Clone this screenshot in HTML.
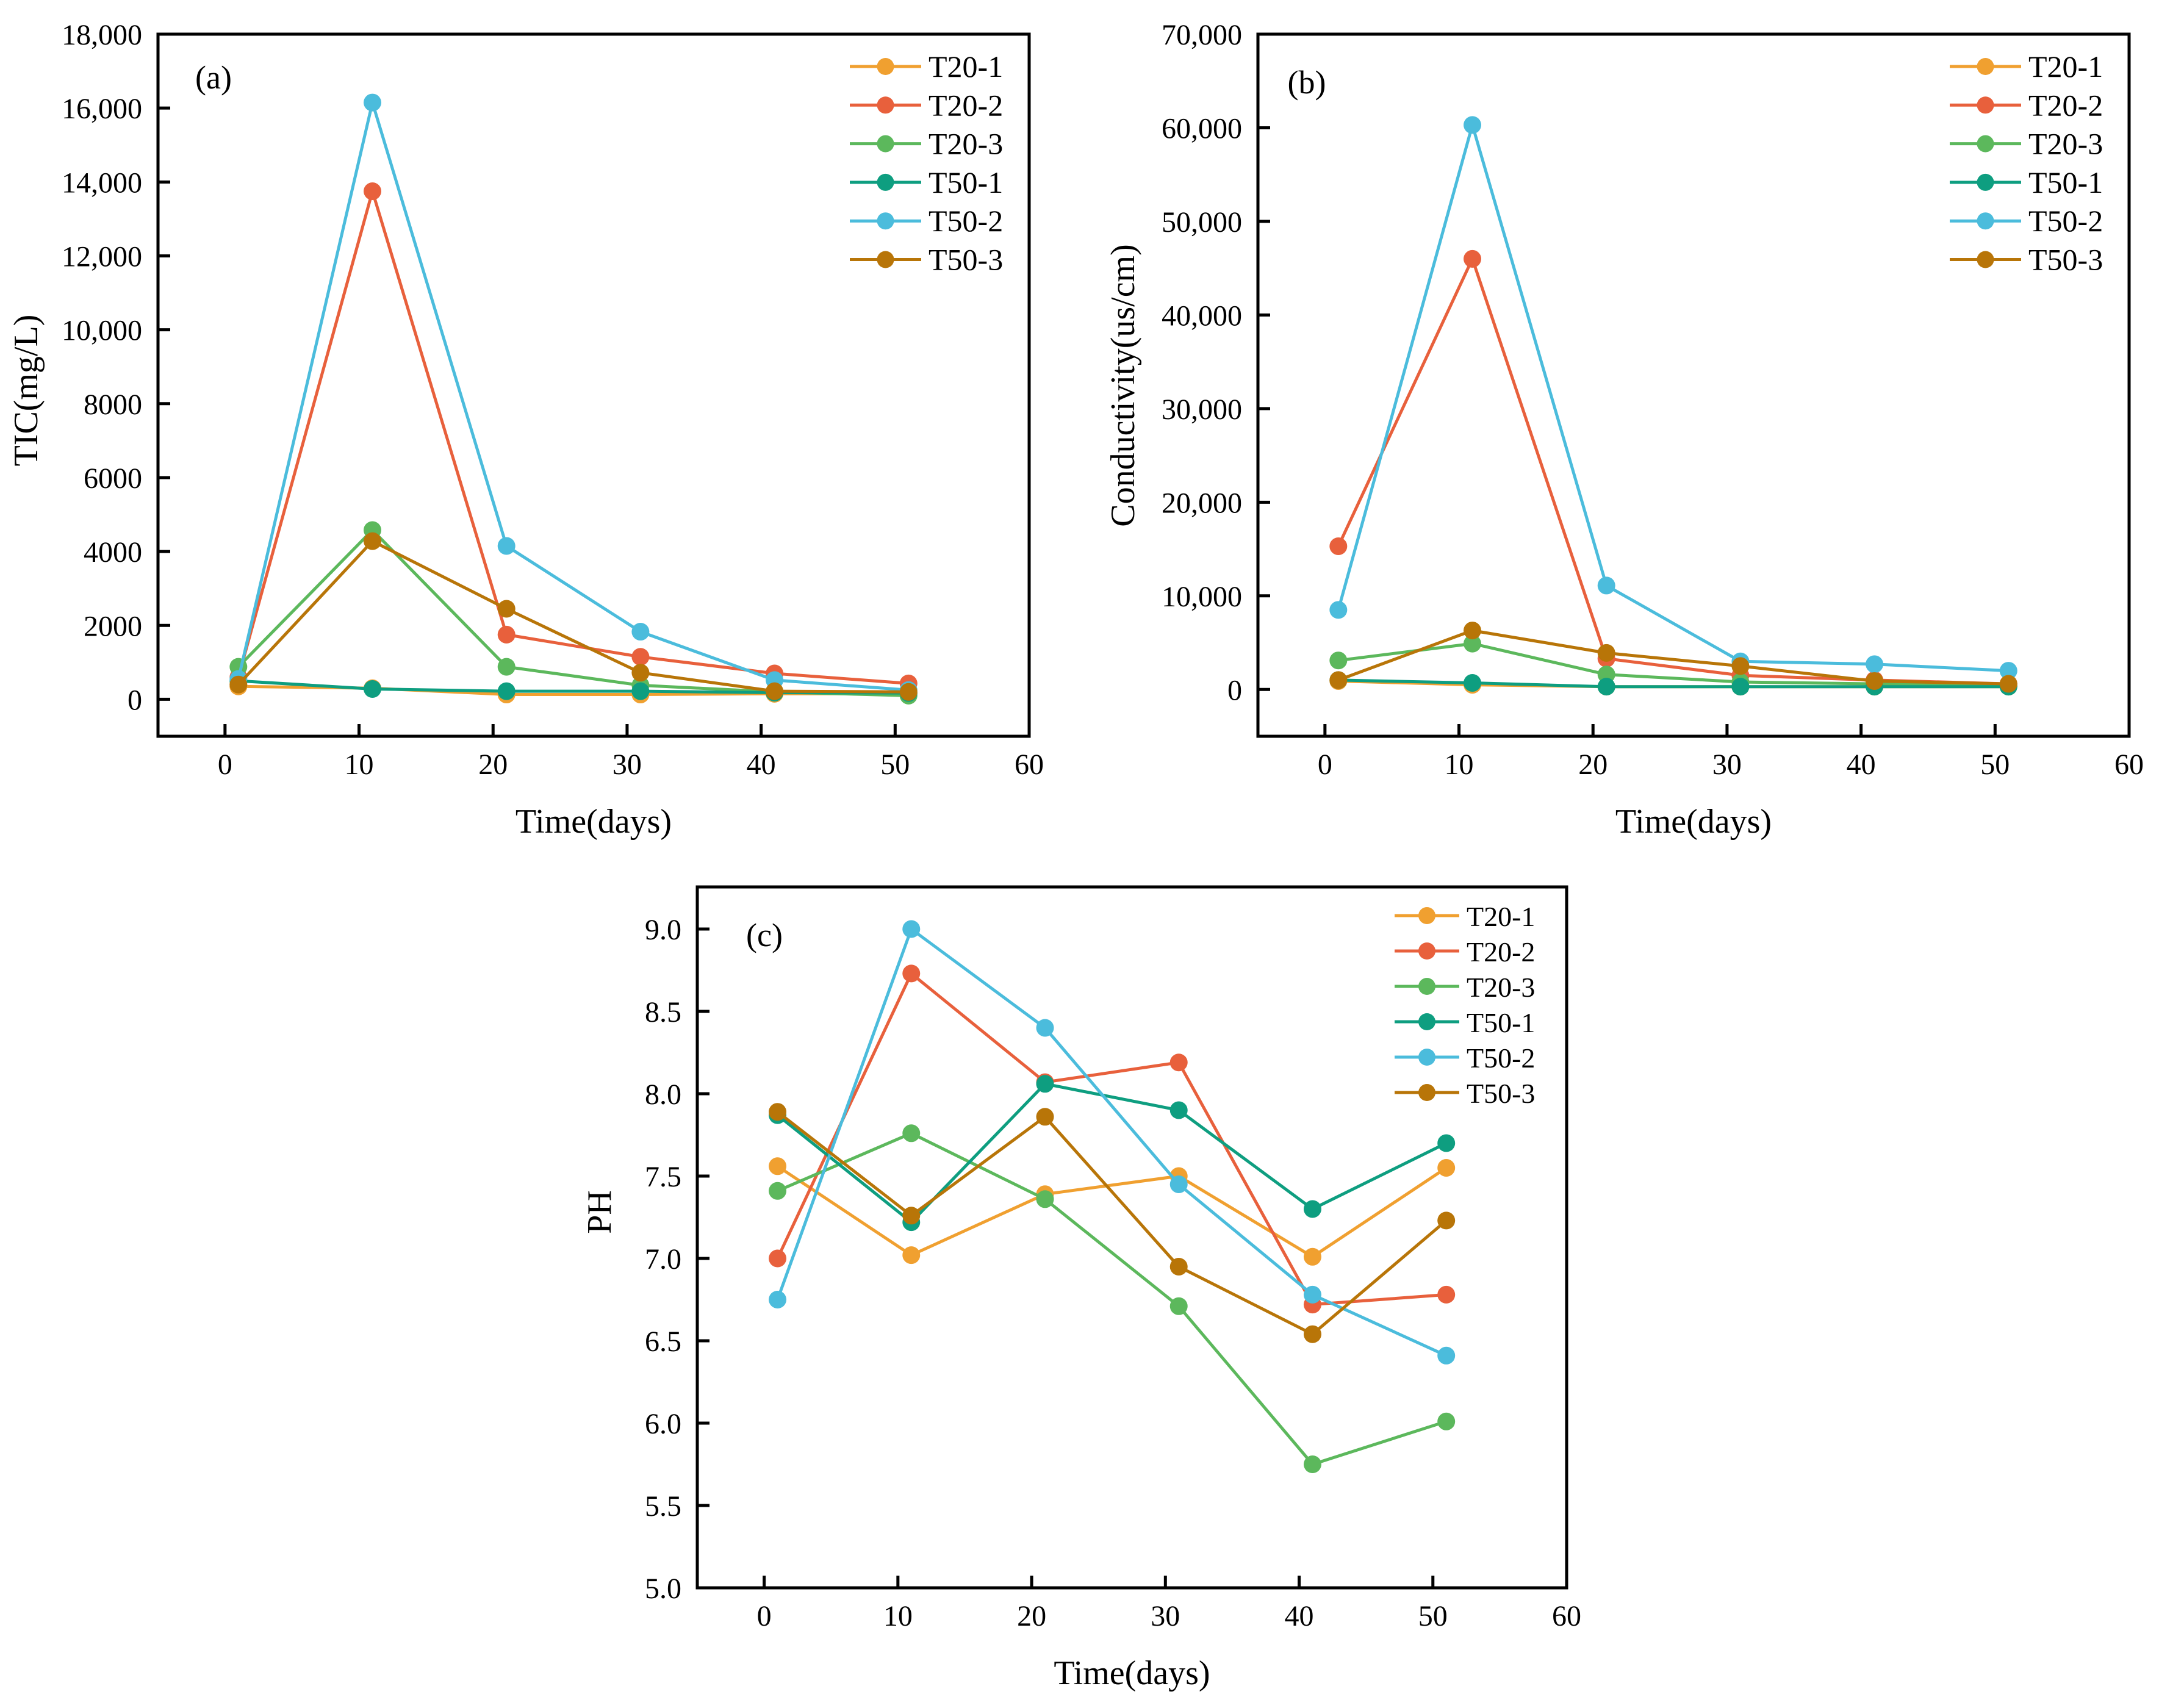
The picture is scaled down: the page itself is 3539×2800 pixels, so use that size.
<!DOCTYPE html>
<html><head><meta charset="utf-8">
<style>
html,body{margin:0;padding:0;background:#fff;}
svg{display:block;font-family:"Liberation Serif","Times New Roman",serif;}
svg text{font-family:"Liberation Serif","Times New Roman",serif;}
</style></head>
<body>
<svg id="fig" width="3539" height="2800" viewBox="0 0 3539 2800" xmlns="http://www.w3.org/2000/svg"></svg>
<script>
const days = [1, 11, 21, 31, 41, 51];
const seriesNames = ["T20-1", "T20-2", "T20-3", "T50-1", "T50-2", "T50-3"];
const seriesColors = ["#F0A030", "#E8603C", "#5CB85C", "#0E9E80", "#4BBCDC", "#B87508"];
const xTicks = [0, 10, 20, 30, 40, 50, 60];

const ticT201 = [350, 300, 130, 130, 150, 150];
const ticT202 = [600, 13750, 1750, 1150, 700, 430];
const ticT203 = [880, 4580, 880, 380, 200, 100];
const ticT501 = [500, 280, 220, 220, 180, 170];
const ticT502 = [550, 16150, 4150, 1830, 520, 250];
const ticT503 = [400, 4280, 2450, 720, 220, 200];
const ticTicks = [0, 2000, 4000, 6000, 8000, 10000, 12000, 14000, 16000, 18000];
const ticTickLabels = ["0", "2000", "4000", "6000", "8000", "10,000", "12,000", "14,000", "16,000", "18,000"];

const condT201 = [900, 500, 300, 300, 300, 300];
const condT202 = [15300, 46000, 3300, 1500, 1000, 600];
const condT203 = [3100, 4900, 1600, 800, 600, 400];
const condT501 = [1000, 700, 300, 300, 300, 300];
const condT502 = [8500, 60300, 11100, 3000, 2700, 2000];
const condT503 = [1000, 6300, 3900, 2500, 900, 600];
const condTicks = [0, 10000, 20000, 30000, 40000, 50000, 60000, 70000];
const condTickLabels = ["0", "10,000", "20,000", "30,000", "40,000", "50,000", "60,000", "70,000"];

const phT201 = [7.56, 7.02, 7.39, 7.50, 7.01, 7.55];
const phT202 = [7.00, 8.73, 8.07, 8.19, 6.72, 6.78];
const phT203 = [7.41, 7.76, 7.36, 6.71, 5.75, 6.01];
const phT501 = [7.87, 7.22, 8.06, 7.90, 7.30, 7.70];
const phT502 = [6.75, 9.00, 8.40, 7.45, 6.78, 6.41];
const phT503 = [7.89, 7.26, 7.86, 6.95, 6.54, 7.23];
const phTicks = [5.0, 5.5, 6.0, 6.5, 7.0, 7.5, 8.0, 8.5, 9.0];
const phTickLabels = ["5.0", "5.5", "6.0", "6.5", "7.0", "7.5", "8.0", "8.5", "9.0"];

const NS = "http://www.w3.org/2000/svg";
const svg = document.getElementById("fig");
const FONT = '"Liberation Serif", "Times New Roman", serif';
function mk(tag, attrs, parent) {
  const e = document.createElementNS(NS, tag);
  for (const k in attrs) e.setAttribute(k, attrs[k]);
  if (tag === "text") e.setAttribute("font-family", FONT);
  (parent || svg).appendChild(e);
  return e;
}

function panel(cfg) {
  const g = mk("g", {});
  
  
  const L = cfg.left, R = cfg.right, T = cfg.top, B = cfg.bottom;
  const xs = v => L + (v - (-5)) / 65 * (R - L);
  const ys = v => B - (v - cfg.ymin) / (cfg.ymax - cfg.ymin) * (B - T);

  cfg.series.forEach((vals, i) => {
    const sg = mk("g", {}, g);
    
    
    const pts = vals.map((v, j) => xs(days[j]).toFixed(1) + "," + ys(v).toFixed(1)).join(" ");
    const pl = mk("polyline", {points: pts, fill: "none", stroke: seriesColors[i], "stroke-width": 5, "stroke-linejoin": "round"}, sg);
    
    
    vals.forEach((v, j) => {
      const c = mk("circle", {cx: xs(days[j]), cy: ys(v), r: 14.5, fill: seriesColors[i]}, sg);
      
      
    });
  });

  const fr = mk("rect", {x: L, y: T, width: R - L, height: B - T, fill: "none", stroke: "#000", "stroke-width": 5}, g);
  
  

  xTicks.forEach(v => {
    const x = xs(v);
    if (v < 60) mk("line", {x1: x, x2: x, y1: B, y2: B - 20, stroke: "#000", "stroke-width": 5}, g);
    const t = mk("text", {x: x, y: B + 62, "font-size": 48, "text-anchor": "middle"}, g);
    t.textContent = v;
    
    
  });
  cfg.yticks.forEach((v, i) => {
    const y = ys(v);
    mk("line", {x1: L, x2: L + 20, y1: y, y2: y, stroke: "#000", "stroke-width": 5}, g);
    const t = mk("text", {x: L - 26, y: y + 17, "font-size": 48, "text-anchor": "end"}, g);
    t.textContent = cfg.ylabels[i];
    
    
  });

  const xt = mk("text", {x: (L + R) / 2, y: B + 158, "font-size": 56, "text-anchor": "middle"}, g);
  xt.textContent = "Time(days)";
  
  
  const yt = mk("text", {x: 0, y: 0, "font-size": 56, "text-anchor": "middle", transform: "translate(" + (cfg.ytitleX + 19) + "," + cfg.ytitleY + ") rotate(-90)"}, g);
  yt.textContent = cfg.ytitle;
  
  

  const pl = mk("text", {x: cfg.labelX, y: cfg.labelY + 18, "font-size": 54, "text-anchor": "middle"}, g);
  pl.textContent = cfg.label;
  
  

  const lg = mk("g", {}, g);
  
  
  seriesNames.forEach((n, i) => {
    const y = cfg.legY + i * cfg.legDy;
    const eg = mk("g", {}, lg);
    
    
    const x0 = R - cfg.legOff;
    mk("line", {x1: x0, x2: x0 + cfg.legLen, y1: y, y2: y, stroke: seriesColors[i], "stroke-width": 5}, eg);
    mk("circle", {cx: x0 + cfg.legLen / 2, cy: y, r: 14, fill: seriesColors[i]}, eg);
    const t = mk("text", {x: x0 + cfg.legLen + 12, y: y + 17, "font-size": cfg.legFont}, eg);
    t.textContent = n;
  });
}

panel({name: "panel-a-tic", left: 259, right: 1687, top: 56, bottom: 1207, ymin: -1000, ymax: 18000,
  series: [ticT201, ticT202, ticT203, ticT501, ticT502, ticT503],
  yticks: ticTicks, ylabels: ticTickLabels, ytitle: "TIC(mg/L)", ytitleX: 42, ytitleY: 640,
  label: "(a)", labelX: 350, labelY: 127, legY: 109, legDy: 63.3, legOff: 294, legLen: 117, legFont: 50});

panel({name: "panel-b-conductivity", left: 2062, right: 3490, top: 56, bottom: 1207, ymin: -5000, ymax: 70000,
  series: [condT201, condT202, condT203, condT501, condT502, condT503],
  yticks: condTicks, ylabels: condTickLabels, ytitle: "Conductivity(us/cm)", ytitleX: 1840, ytitleY: 632,
  label: "(b)", labelX: 2142, labelY: 135, legY: 109, legDy: 63.3, legOff: 294, legLen: 117, legFont: 50});

panel({name: "panel-c-ph", left: 1143, right: 2568, top: 1454, bottom: 2603, ymin: 5.0, ymax: 9.2556,
  series: [phT201, phT202, phT203, phT501, phT502, phT503],
  yticks: phTicks, ylabels: phTickLabels, ytitle: "PH", ytitleX: 982, ytitleY: 1987,
  label: "(c)", labelX: 1253, labelY: 1533, legY: 1501, legDy: 58, legOff: 282, legLen: 106, legFont: 46});
</script>
</body></html>
